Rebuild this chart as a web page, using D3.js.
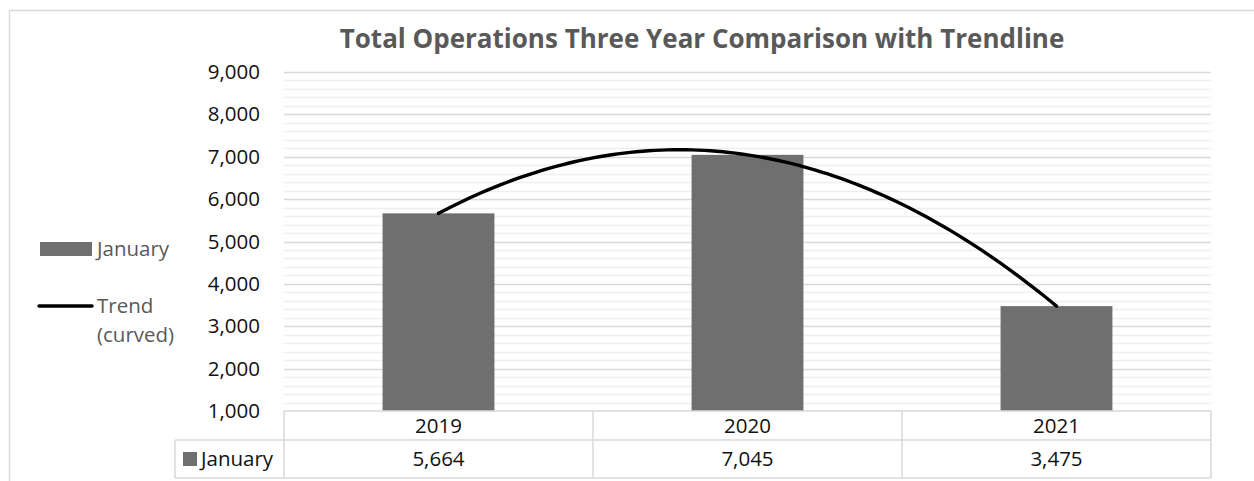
<!DOCTYPE html>
<html>
<head>
<meta charset="utf-8">
<script src="https://cdn.jsdelivr.net/npm/d3@7"></script>
<style>
  html, body { margin: 0; padding: 0; background: #fff; }
  svg { display: block; }
</style>
</head>
<body>
<svg id="chart" width="1254" height="481"></svg>
<script>
// ---------------- data ----------------
const categories = ["2019", "2020", "2021"];
const seriesName = "January";
const januaryValues = [5664, 7045, 3475];
const trendName = ["Trend", "(curved)"];
const yTicks = [1000, 2000, 3000, 4000, 5000, 6000, 7000, 8000, 9000];
const yMinorStep = 200;
const titleText = "Total Operations Three Year Comparison with Trendline";

// ---------------- layout ----------------
const W = 1254, H = 481;
const plot = { left: 284, right: 1211, top: 72, bottom: 411 };
const FONT = "'Open Sans', 'Liberation Sans', sans-serif";
const barColor = "#6f6f6f";
const gridMajor = "#d9d9d9";
const gridMinor = "#efefef";
const border = "#d9d9d9";

const svg = d3.select("#chart");

// outer chart frame (cut off right/bottom as in reference)
svg.append("rect")
  .attr("x", 9.5).attr("y", 10.5)
  .attr("width", 1300).attr("height", 600)
  .attr("fill", "#fff").attr("stroke", border).attr("stroke-width", 1.5);

const x = d3.scaleBand()
  .domain(categories)
  .range([plot.left, plot.right])
  .paddingInner(0.638)
  .paddingOuter(0.319);

const y = d3.scaleLinear()
  .domain([d3.min(yTicks), d3.max(yTicks)])
  .range([plot.bottom, plot.top]);

// minor gridlines
const minorTicks = d3.range(d3.min(yTicks), d3.max(yTicks) + 1, yMinorStep)
  .filter(v => !yTicks.includes(v));
svg.append("g").selectAll("line").data(minorTicks).join("line")
  .attr("x1", plot.left).attr("x2", plot.right)
  .attr("y1", d => Math.round(y(d)) + 0.5).attr("y2", d => Math.round(y(d)) + 0.5)
  .attr("stroke", gridMinor).attr("stroke-width", 1.3);

// major gridlines
svg.append("g").selectAll("line").data(yTicks.filter(v => v !== d3.min(yTicks))).join("line")
  .attr("x1", plot.left).attr("x2", plot.right)
  .attr("y1", d => Math.round(y(d)) + 0.5).attr("y2", d => Math.round(y(d)) + 0.5)
  .attr("stroke", gridMajor).attr("stroke-width", 1.3);

// y axis labels via d3 axis
const yAxis = d3.axisLeft(y).tickValues(yTicks).tickSize(0).tickPadding(0)
  .tickFormat(d3.format(","));
const gy = svg.append("g").attr("transform", `translate(${plot.left - 24},0)`).call(yAxis);
gy.select(".domain").remove();
gy.selectAll("text")
  .attr("font-family", FONT).attr("font-size", 20.5).attr("fill", "#111");

// bars
svg.append("g").selectAll("rect").data(januaryValues).join("rect")
  .attr("x", (d, i) => x(categories[i]))
  .attr("width", x.bandwidth())
  .attr("y", d => y(d))
  .attr("height", d => y(d3.min(yTicks)) - y(d))
  .attr("fill", barColor);

// polynomial (order 2) trendline fitted to the series
function quadFit(vals) {
  // exact quadratic through three points at t = 0,1,2 (least-squares fit for n=3)
  const [y0, y1, y2] = vals;
  return t => y0 * (t - 1) * (t - 2) / 2 - y1 * t * (t - 2) + y2 * t * (t - 1) / 2;
}
const f = quadFit(januaryValues);
const step = x.step();
const c0 = x(categories[0]) + x.bandwidth() / 2;
const tSamples = d3.range(0, januaryValues.length - 1 + 1e-9, 0.02);
const line = d3.line()
  .x(t => c0 + t * step)
  .y(t => y(f(t)));
svg.append("path")
  .datum(tSamples)
  .attr("d", line)
  .attr("fill", "none").attr("stroke", "#000").attr("stroke-width", 3.4)
  .attr("stroke-linecap", "round");

// data table
const tableTop = plot.bottom, row1 = 440, row2 = 478, tableLeft = 175;
const tg = svg.append("g");
const colEdges = [plot.left].concat(categories.map(c => x(c) + x.bandwidth() / 2 + step / 2));
// horizontal lines
tg.append("line").attr("x1", plot.left).attr("x2", plot.right).attr("y1", tableTop).attr("y2", tableTop);
tg.append("line").attr("x1", tableLeft).attr("x2", plot.right).attr("y1", row1).attr("y2", row1);
tg.append("line").attr("x1", tableLeft).attr("x2", plot.right).attr("y1", row2).attr("y2", row2);
// vertical lines
tg.selectAll("line.v").data(colEdges).join("line").attr("class", "v")
  .attr("x1", d => d).attr("x2", d => d).attr("y1", tableTop).attr("y2", row2);
tg.append("line").attr("x1", tableLeft).attr("x2", tableLeft).attr("y1", row1).attr("y2", row2);
tg.selectAll("line").attr("stroke", border).attr("stroke-width", 1.5);

// header row: categories
tg.selectAll("text.cat").data(categories).join("text").attr("class", "cat")
  .attr("x", d => x(d) + x.bandwidth() / 2)
  .attr("y", (tableTop + row1) / 2)
  .attr("dy", "0.35em")
  .attr("text-anchor", "middle")
  .attr("font-family", FONT).attr("font-size", 20.5).attr("fill", "#111")
  .text(d => d);
// value row
tg.selectAll("text.val").data(januaryValues).join("text").attr("class", "val")
  .attr("x", (d, i) => x(categories[i]) + x.bandwidth() / 2)
  .attr("y", (row1 + row2) / 2)
  .attr("dy", "0.35em")
  .attr("text-anchor", "middle")
  .attr("font-family", FONT).attr("font-size", 20.5).attr("fill", "#111")
  .text(d => d3.format(",")(d));
// row label with key
tg.append("rect").attr("x", 183).attr("y", 452).attr("width", 14).attr("height", 14).attr("fill", barColor);
tg.append("text").attr("x", 201).attr("y", (row1 + row2) / 2).attr("dy", "0.35em")
  .attr("font-family", FONT).attr("font-size", 20.5).attr("fill", "#111")
  .text(seriesName);

// legend
const lg = svg.append("g");
lg.append("rect").attr("x", 40).attr("y", 242).attr("width", 52).attr("height", 14).attr("fill", barColor);
lg.append("text").attr("x", 97).attr("y", 256)
  .attr("font-family", FONT).attr("font-size", 20.5).attr("fill", "#595959").text(seriesName);
lg.append("line").attr("x1", 39).attr("x2", 92).attr("y1", 306).attr("y2", 306)
  .attr("stroke", "#000").attr("stroke-width", 3.4).attr("stroke-linecap", "round");
lg.selectAll("text.tr").data(trendName).join("text").attr("class", "tr")
  .attr("x", 97).attr("y", (d, i) => 313 + i * 29)
  .attr("font-family", FONT).attr("font-size", 20.5).attr("fill", "#595959")
  .text(d => d);

// title
const title = svg.append("text")
  .attr("x", 702).attr("y", 48)
  .attr("text-anchor", "middle")
  .attr("font-family", FONT).attr("font-weight", "bold").attr("font-size", 26)
  .attr("fill", "#595959")
  .text(titleText);
</script>
</body>
</html>
